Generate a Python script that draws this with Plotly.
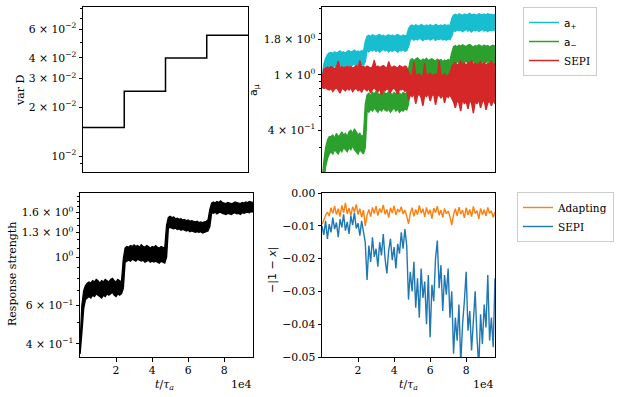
import plotly.graph_objects as go

# ---------------- data ----------------
T_STEP = 1000
N_PTS = 97
t = [i * T_STEP for i in range(N_PTS)]

# var D (step schedule)
varD_t = [0, 24000, 48000, 72000, 96000]
varD = [0.015, 0.025, 0.04, 0.055, 0.055]

# dense noisy traces: upper / lower extent of the noise band at each time
a_plus_hi = [
    0.95, 1.20, 1.32, 1.40, 1.44,
    1.45, 1.43, 1.47, 1.44, 1.46, 1.49, 1.45, 1.47, 1.44, 1.48, 1.50, 1.46, 1.48, 1.51, 1.47, 1.49, 1.46, 1.50, 1.48,
    1.75,
    1.90, 1.93, 1.89, 1.95, 1.92, 1.90, 1.94, 1.96, 1.91, 1.93, 1.89, 1.92, 1.95, 1.91, 1.94, 1.90, 1.93, 1.96, 1.92, 1.90, 1.94, 1.91, 1.93,
    2.15,
    2.26, 2.29, 2.24, 2.30, 2.27, 2.25, 2.31, 2.28, 2.24, 2.29, 2.26, 2.30, 2.27, 2.25, 2.32, 2.28, 2.26, 2.29, 2.25, 2.31, 2.27, 2.29, 2.26,
    2.55,
    2.70, 2.74, 2.68, 2.76, 2.72, 2.69, 2.75, 2.71, 2.73, 2.78, 2.70, 2.74, 2.72, 2.69, 2.76, 2.73, 2.71, 2.75, 2.70, 2.77, 2.72, 2.74, 2.70, 2.73,
]
a_plus_lo = [
    0.80, 0.95, 1.05, 1.10, 1.12,
    1.15, 1.13, 1.17, 1.14, 1.16, 1.18, 1.15, 1.13, 1.17, 1.19, 1.16, 1.14, 1.18, 1.20, 1.16, 1.18, 1.15, 1.19, 1.17,
    1.25,
    1.50, 1.47, 1.52, 1.49, 1.53, 1.48, 1.51, 1.46, 1.50, 1.53, 1.49, 1.52, 1.47, 1.51, 1.48, 1.52, 1.50, 1.46, 1.51, 1.49, 1.53, 1.48, 1.50,
    1.60,
    1.80, 1.83, 1.78, 1.82, 1.79, 1.84, 1.81, 1.77, 1.82, 1.80, 1.83, 1.79, 1.81, 1.84, 1.78, 1.82, 1.80, 1.83, 1.79, 1.81, 1.78, 1.82, 1.80,
    1.90,
    2.10, 2.06, 2.12, 2.08, 2.11, 2.05, 2.09, 2.13, 2.07, 2.10, 2.04, 2.11, 2.08, 2.12, 2.06, 2.09, 2.13, 2.07, 2.10, 2.05, 2.11, 2.08, 2.12, 2.09,
]

a_minus_hi = [
    0.17, 0.24, 0.30, 0.34, 0.36,
    0.36, 0.37, 0.35, 0.38, 0.36, 0.37, 0.39, 0.37, 0.38, 0.36, 0.39, 0.40, 0.38, 0.41, 0.39, 0.37, 0.38, 0.36, 0.37,
    0.62,
    0.72, 0.74, 0.71, 0.75, 0.73, 0.76, 0.74, 0.72, 0.75, 0.77, 0.74, 0.73, 0.76, 0.74, 0.72, 0.75, 0.73, 0.76, 0.74, 0.72, 0.75, 0.73, 0.74,
    1.10,
    1.28, 1.31, 1.27, 1.30, 1.33, 1.29, 1.26, 1.30, 1.28, 1.32, 1.27, 1.29, 1.31, 1.28, 1.26, 1.30, 1.27, 1.29, 1.25, 1.28, 1.26, 1.29, 1.27,
    1.45,
    1.60, 1.63, 1.59, 1.64, 1.61, 1.65, 1.62, 1.60, 1.64, 1.66, 1.62, 1.59, 1.63, 1.61, 1.65, 1.62, 1.60, 1.64, 1.61, 1.63, 1.59, 1.62, 1.64, 1.61,
]
a_minus_lo = [
    0.14, 0.17, 0.22, 0.25, 0.27,
    0.28, 0.27, 0.29, 0.28, 0.27, 0.29, 0.28, 0.30, 0.29, 0.28, 0.30, 0.29, 0.31, 0.29, 0.28, 0.27, 0.29, 0.28, 0.27,
    0.30,
    0.56, 0.54, 0.57, 0.55, 0.58, 0.56, 0.54, 0.57, 0.55, 0.58, 0.56, 0.55, 0.57, 0.54, 0.56, 0.58, 0.55, 0.57, 0.54, 0.56, 0.55, 0.57, 0.56,
    0.62,
    0.90, 0.88, 0.92, 0.89, 0.91, 0.87, 0.90, 0.93, 0.89, 0.91, 0.88, 0.90, 0.92, 0.89, 0.87, 0.91, 0.89, 0.92, 0.88, 0.90, 0.89, 0.91, 0.88,
    0.95,
    1.23, 1.21, 1.25, 1.22, 1.24, 1.20, 1.23, 1.26, 1.22, 1.24, 1.21, 1.25, 1.23, 1.20, 1.24, 1.22, 1.25, 1.21, 1.23, 1.26, 1.22, 1.24, 1.21, 1.23,
]

a_sepi_hi = [
    0.95, 1.10, 1.12, 1.14, 1.12, 1.15, 1.13, 1.11, 1.14, 1.26, 1.13, 1.15, 1.12, 1.14, 1.16, 1.13, 1.15, 1.12, 1.14, 1.17, 1.13, 1.27, 1.14, 1.15,
    1.13, 1.16, 1.14, 1.12, 1.15, 1.28, 1.14, 1.16, 1.13, 1.15, 1.17, 1.14, 1.12, 1.25, 1.15, 1.13, 1.16, 1.14, 1.12, 1.17, 1.15, 1.13, 1.16, 1.14,
    1.05, 1.00, 0.98, 1.25, 1.01, 0.99, 1.02, 0.97, 1.00, 1.22, 0.98, 1.01, 1.03, 0.99, 1.00, 1.02, 0.98, 1.28, 1.01, 0.99, 1.02, 0.98, 1.00, 1.04,
    1.15, 1.20, 1.23, 1.18, 1.21, 1.26, 1.19, 1.22, 1.17, 1.24, 1.20, 1.27, 1.19, 1.22, 1.18, 1.21, 1.25, 1.19, 1.23, 1.17, 1.22, 1.20, 1.26, 1.19, 1.21,
]
a_sepi_lo = [
    0.82, 0.80, 0.81, 0.79, 0.78, 0.80, 0.76, 0.79, 0.81, 0.78, 0.74, 0.80, 0.79, 0.77, 0.80, 0.78, 0.81, 0.76, 0.79, 0.80, 0.77, 0.79, 0.75, 0.80,
    0.79, 0.77, 0.80, 0.74, 0.79, 0.81, 0.78, 0.76, 0.80, 0.72, 0.79, 0.77, 0.80, 0.78, 0.75, 0.79, 0.81, 0.77, 0.73, 0.79, 0.78, 0.80, 0.76, 0.79,
    0.66, 0.72, 0.70, 0.74, 0.62, 0.71, 0.73, 0.69, 0.60, 0.72, 0.70, 0.74, 0.65, 0.71, 0.73, 0.61, 0.70, 0.72, 0.68, 0.73, 0.63, 0.71, 0.69, 0.72,
    0.68, 0.64, 0.58, 0.66, 0.63, 0.55, 0.67, 0.62, 0.65, 0.57, 0.66, 0.63, 0.53, 0.65, 0.62, 0.67, 0.58, 0.64, 0.66, 0.56, 0.63, 0.65, 0.60, 0.66, 0.62,
]

response_hi = [
    0.40, 0.60, 0.70, 0.74, 0.76,
    0.77, 0.76, 0.78, 0.77, 0.79, 0.78, 0.76, 0.78, 0.77, 0.79, 0.78, 0.77, 0.79, 0.80, 0.78, 0.77, 0.79, 0.78, 0.77,
    0.98,
    1.10, 1.12, 1.11, 1.13, 1.12, 1.14, 1.12, 1.13, 1.11, 1.14, 1.12, 1.11, 1.13, 1.12, 1.10, 1.12, 1.11, 1.13, 1.11, 1.10, 1.12, 1.11, 1.10,
    1.40,
    1.52, 1.54, 1.52, 1.53, 1.50, 1.51, 1.49, 1.50, 1.48, 1.49, 1.47, 1.48, 1.46, 1.47, 1.46, 1.45, 1.46, 1.44, 1.45, 1.44, 1.45, 1.46, 1.48,
    1.65,
    1.77, 1.79, 1.77, 1.80, 1.78, 1.81, 1.78, 1.77, 1.76, 1.78, 1.77, 1.76, 1.77, 1.79, 1.78, 1.77, 1.76, 1.78, 1.77, 1.79, 1.78, 1.80, 1.79, 1.78,
]
response_lo = [
    0.36, 0.45, 0.58, 0.64, 0.65,
    0.66, 0.65, 0.67, 0.66, 0.68, 0.67, 0.66, 0.65, 0.67, 0.66, 0.68, 0.67, 0.68, 0.69, 0.67, 0.66, 0.68, 0.67, 0.68,
    0.72,
    0.95, 0.96, 0.97, 0.96, 0.98, 0.97, 0.96, 0.98, 0.97, 0.96, 0.97, 0.95, 0.96, 0.97, 0.95, 0.96, 0.95, 0.96, 0.95, 0.94, 0.96, 0.95, 0.94,
    1.00,
    1.36, 1.37, 1.36, 1.35, 1.36, 1.34, 1.35, 1.33, 1.34, 1.33, 1.32, 1.33, 1.31, 1.32, 1.31, 1.30, 1.31, 1.30, 1.31, 1.29, 1.30, 1.31, 1.32,
    1.38,
    1.60, 1.59, 1.61, 1.58, 1.60, 1.61, 1.59, 1.58, 1.57, 1.59, 1.58, 1.57, 1.59, 1.60, 1.58, 1.59, 1.57, 1.60, 1.59, 1.60, 1.61, 1.60, 1.62, 1.61,
]

err_adapting = [
    -0.0095, -0.0082, -0.0068, -0.0058, -0.0070, -0.0045, -0.0062, -0.0040, -0.0066, -0.0048,
    -0.0072, -0.0038, -0.0060, -0.0030, -0.0064, -0.0046, -0.0070, -0.0042, -0.0058, -0.0035,
    -0.0066, -0.0048, -0.0074, -0.0052, -0.0100, -0.0068, -0.0050, -0.0072, -0.0044, -0.0063,
    -0.0040, -0.0069, -0.0047, -0.0060, -0.0036, -0.0065, -0.0050, -0.0075, -0.0045, -0.0061,
    -0.0039, -0.0067, -0.0049, -0.0058, -0.0042, -0.0064, -0.0052, -0.0070, -0.0094, -0.0062,
    -0.0045, -0.0071, -0.0050, -0.0066, -0.0038, -0.0062, -0.0048, -0.0073, -0.0044, -0.0065,
    -0.0051, -0.0078, -0.0046, -0.0060, -0.0040, -0.0068, -0.0052, -0.0074, -0.0047, -0.0063,
    -0.0055, -0.0072, -0.0098, -0.0066, -0.0048, -0.0070, -0.0043, -0.0064, -0.0052, -0.0076,
    -0.0045, -0.0067, -0.0050, -0.0072, -0.0041, -0.0063, -0.0054, -0.0079, -0.0047, -0.0066,
    -0.0051, -0.0070, -0.0044, -0.0062, -0.0055, -0.0074, -0.0058,
]

err_sepi = [
    -0.0100, -0.0128, -0.0085, -0.0140, -0.0095, -0.0120, -0.0075, -0.0110, -0.0090, -0.0135,
    -0.0080, -0.0105, -0.0065, -0.0115, -0.0088, -0.0125, -0.0070, -0.0098, -0.0060, -0.0108,
    -0.0092, -0.0130, -0.0085, -0.0118,
    -0.0150, -0.0265, -0.0160, -0.0210, -0.0135, -0.0195, -0.0170, -0.0225, -0.0150, -0.0190,
    -0.0125, -0.0200, -0.0245, -0.0175, -0.0140, -0.0205, -0.0165, -0.0230, -0.0155, -0.0185,
    -0.0120, -0.0170, -0.0110, -0.0160,
    -0.0325, -0.0240, -0.0300, -0.0210, -0.0350, -0.0260, -0.0380, -0.0230, -0.0320, -0.0270,
    -0.0400, -0.0250, -0.0440, -0.0280, -0.0330, -0.0200, -0.0145, -0.0290, -0.0220, -0.0360,
    -0.0250, -0.0310, -0.0230, -0.0380,
    -0.0300, -0.0490, -0.0380, -0.0450, -0.0340, -0.0520, -0.0400, -0.0330, -0.0240, -0.0420,
    -0.0360, -0.0480, -0.0390, -0.0300, -0.0440, -0.0530, -0.0370, -0.0460, -0.0340, -0.0410,
    -0.0250, -0.0450, -0.0380, -0.0470, -0.0260,
]

x_tickvals = [20000, 40000, 60000, 80000]
x_ticktext = ["2", "4", "6", "8"]

# ---------------- figure ----------------
W, H = 617, 397
SERIF = "DejaVu Serif"
SANS = "DejaVu Sans"


def px(x):
    return x / W


def py(y):
    return 1 - y / H


fig = go.Figure()

fig.add_trace(go.Scatter(x=varD_t, y=varD, mode="lines", line=dict(color="black", width=1.5, shape="hv"),
                         xaxis="x", yaxis="y", showlegend=False))


def add_band(lo, hi, color, xa, ya, name=None, legend=None):
    fig.add_trace(go.Scatter(x=t, y=lo, mode="lines", line=dict(color=color, width=1.5, simplify=False),
                             name=name, showlegend=name is not None, legend=legend,
                             xaxis=xa, yaxis=ya, hoverinfo="skip"))
    fig.add_trace(go.Scatter(x=t, y=hi, mode="lines", line=dict(color=color, width=1.2, simplify=False),
                             fill="tonexty", fillcolor=color, showlegend=False,
                             xaxis=xa, yaxis=ya, hoverinfo="skip"))


add_band(a_plus_lo, a_plus_hi, "#17becf", "x2", "y2",
         '<span style="font-family:DejaVu Sans">a<sub>+</sub></span>', "legend")
add_band(a_minus_lo, a_minus_hi, "#2ca02c", "x2", "y2",
         '<span style="font-family:DejaVu Sans">a<sub>−</sub></span>', "legend")
add_band(a_sepi_lo, a_sepi_hi, "#d62728", "x2", "y2", "SEPI", "legend")

add_band(response_lo, response_hi, "black", "x3", "y3")

fig.add_trace(go.Scatter(x=t, y=err_adapting, mode="lines", line=dict(color="#ff7f0e", width=1.4, simplify=False),
                         name="Adapting", xaxis="x4", yaxis="y4", legend="legend2"))
fig.add_trace(go.Scatter(x=t, y=err_sepi, mode="lines", line=dict(color="#1f77b4", width=1.4, simplify=False),
                         name="SEPI", xaxis="x4", yaxis="y4", legend="legend2"))

tickfont = dict(family=SERIF, size=10.8, color="black")
common = dict(showline=True, mirror=True, linecolor="black", linewidth=1, showgrid=False, zeroline=False,
              ticks="outside", ticklen=3.5, tickwidth=0.8, tickcolor="black", tickfont=tickfont)

top_y = (py(172), py(7))
bot_y = (py(357), py(193))
left_top_x = (px(83), px(248))
left_bot_x = (px(80), px(253))
right_x = (px(322), px(495))

xr = [0, 96000]


def ann(text, x, y, angle=0, family=SERIF, xanchor="center"):
    return dict(text=text, x=px(x), y=py(y), xref="paper", yref="paper", showarrow=False, textangle=angle,
                xanchor=xanchor, yanchor="middle", font=dict(family=family, size=11, color="black"))


layout = dict(
    width=W, height=H, margin=dict(l=0, r=0, t=0, b=0, autoexpand=False),
    paper_bgcolor="white", plot_bgcolor="white",
    font=dict(family=SERIF, size=10, color="black"),
    xaxis=dict(common, domain=left_top_x, range=xr, anchor="y", showticklabels=False, ticks=""),
    yaxis=dict(common, domain=top_y, anchor="x", type="log", range=[-2.097, -1.086],
               tickvals=[0.01, 0.02, 0.03, 0.04, 0.06],
               ticktext=["10<sup>−2</sup>", "2 × 10<sup>−2</sup>", "3 × 10<sup>−2</sup>",
                         "4 × 10<sup>−2</sup>", "6 × 10<sup>−2</sup>"],
               minor=dict(ticks="outside", ticklen=2, tickcolor="black", tickvals=[0.009, 0.05, 0.07, 0.08])),
    xaxis2=dict(common, domain=right_x, range=xr, anchor="y2", showticklabels=False, ticks=""),
    yaxis2=dict(common, domain=top_y, anchor="x2", type="log", range=[-0.699, 0.489],
                tickvals=[0.4, 1.0, 1.8],
                ticktext=["4 × 10<sup>−1</sup>", "1 × 10<sup>0</sup>", "1.8 × 10<sup>0</sup>"],
                minor=dict(ticks="outside", ticklen=2, tickcolor="black",
                           tickvals=[0.3, 0.5, 0.6, 0.7, 0.8, 0.9, 2, 3])),
    xaxis3=dict(common, domain=left_bot_x, range=xr, anchor="y3", tickvals=x_tickvals, ticktext=x_ticktext),
    yaxis3=dict(common, domain=bot_y, anchor="x3", type="log", range=[-0.458, 0.294],
                tickvals=[0.4, 0.6, 1.0, 1.3, 1.6],
                ticktext=["4 × 10<sup>−1</sup>", "6 × 10<sup>−1</sup>", "10<sup>0</sup>",
                          "1.3 × 10<sup>0</sup>", "1.6 × 10<sup>0</sup>"],
                minor=dict(ticks="outside", ticklen=2, tickcolor="black",
                           tickvals=[0.5, 0.7, 0.8, 0.9, 1.1, 1.2, 1.4, 1.5, 1.7, 1.8, 1.9])),
    xaxis4=dict(common, domain=right_x, range=xr, anchor="y4", tickvals=x_tickvals, ticktext=x_ticktext),
    yaxis4=dict(common, domain=bot_y, anchor="x4", range=[-0.05, 0.0],
                tickvals=[0.0, -0.01, -0.02, -0.03, -0.04, -0.05], tickformat=".2f"),
    legend=dict(x=px(523), y=py(7), xanchor="left", yanchor="top", bordercolor="#cccccc", borderwidth=1,
                bgcolor="rgba(255,255,255,0.8)", font=dict(family=SERIF, size=10.5), tracegroupgap=0,
                traceorder="normal"),
    legend2=dict(x=px(517), y=py(192), xanchor="left", yanchor="top", bordercolor="#cccccc", borderwidth=1,
                 bgcolor="rgba(255,255,255,0.8)", font=dict(family=SERIF, size=10.5), tracegroupgap=0,
                 traceorder="normal"),
    annotations=[
        ann("var D", 20, 90, -90),
        ann("a<sub>μ</sub>", 254, 90, -90, SANS),
        ann("Response strength", 12, 274, -90),
        ann("−|1 − <i>x</i>|", 272, 270, -90, SANS),
        ann("<i>t</i>/<i>τ</i><sub><i>a</i></sub>", 164, 385),
        ann("<i>t</i>/<i>τ</i><sub><i>a</i></sub>", 408, 385),
        ann("1e4", 254, 384, 0, SERIF, "right"),
        ann("1e4", 496, 384, 0, SERIF, "right"),
    ],
)

fig.update_layout(**layout)
fig.write_html("out.html", config={"displayModeBar": False},
               post_script="document.body.style.margin='0px';document.body.style.overflow='hidden';")
